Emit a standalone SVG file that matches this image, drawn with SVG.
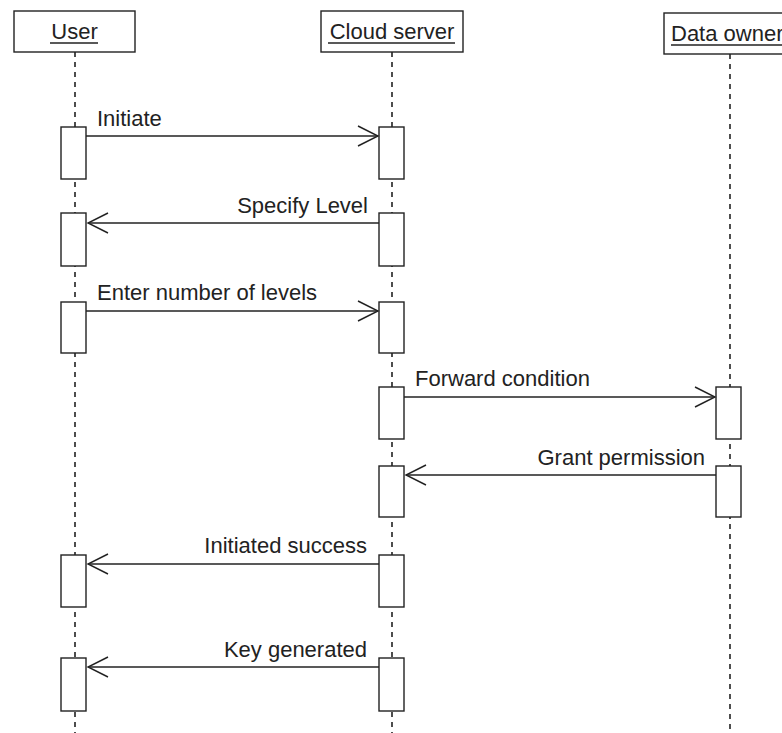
<svg xmlns="http://www.w3.org/2000/svg" width="782" height="733" viewBox="0 0 782 733">
<style>
.head{fill:#fff;stroke:#222;stroke-width:1.4}
.lbl{font-family:"Liberation Sans",Arial,sans-serif;font-size:22px;fill:#222}
.life{stroke:#222;stroke-width:1.6;stroke-dasharray:5,5;fill:none}
.bar{fill:#fff;stroke:#222;stroke-width:1.4}
.msg{stroke:#222;stroke-width:1.4;fill:none}
.ul{stroke:#222;stroke-width:1.3}
</style>
<rect width="782" height="733" fill="#fff"/>
<g id="lifelines">
<line class="life" x1="75" y1="52" x2="75" y2="733"/>
<line class="life" x1="392" y1="52" x2="392" y2="733"/>
<line class="life" x1="730" y1="54" x2="730" y2="733"/>
</g>
<g id="user">
<rect class="head" x="14" y="11" width="121" height="41"/>
<text class="lbl" x="74.5" y="39" text-anchor="middle">User</text>
<line class="ul" x1="50" y1="43" x2="98" y2="43"/>
</g>
<g id="cloud">
<rect class="head" x="321" y="11" width="142" height="41"/>
<text class="lbl" x="392" y="39" text-anchor="middle">Cloud server</text>
<line class="ul" x1="328" y1="43" x2="455" y2="43"/>
</g>
<g id="owner">
<rect class="head" x="664" y="13" width="140" height="41"/>
<text class="lbl" x="671" y="41">Data owner</text>
<line class="ul" x1="671" y1="45" x2="784" y2="45"/>
</g>
<g id="activations">
<rect class="bar" x="61" y="127" width="25" height="52"/>
<rect class="bar" x="379" y="127" width="25" height="52"/>
<rect class="bar" x="61" y="213" width="25" height="53"/>
<rect class="bar" x="379" y="213" width="25" height="53"/>
<rect class="bar" x="61" y="302" width="25" height="51"/>
<rect class="bar" x="379" y="302" width="25" height="51"/>
<rect class="bar" x="379" y="387" width="25" height="52"/>
<rect class="bar" x="716" y="387" width="25" height="52"/>
<rect class="bar" x="379" y="466" width="25" height="51"/>
<rect class="bar" x="716" y="466" width="25" height="51"/>
<rect class="bar" x="61" y="555" width="25" height="52"/>
<rect class="bar" x="379" y="555" width="25" height="52"/>
<rect class="bar" x="61" y="658" width="25" height="53"/>
<rect class="bar" x="379" y="658" width="25" height="53"/>
</g>
<g id="connectors">
<line class="msg" x1="86" y1="136" x2="378" y2="136"/>
<polyline class="msg" points="358,126 378,136 358,146"/>
<line class="msg" x1="379" y1="223" x2="88" y2="223"/>
<polyline class="msg" points="108,213 88,223 108,233"/>
<line class="msg" x1="86" y1="311" x2="378" y2="311"/>
<polyline class="msg" points="358,301 378,311 358,321"/>
<line class="msg" x1="404" y1="397" x2="715" y2="397"/>
<polyline class="msg" points="695,387 715,397 695,407"/>
<line class="msg" x1="716" y1="475" x2="406" y2="475"/>
<polyline class="msg" points="426,465 406,475 426,485"/>
<line class="msg" x1="379" y1="564" x2="88" y2="564"/>
<polyline class="msg" points="108,554 88,564 108,574"/>
<line class="msg" x1="379" y1="667" x2="88" y2="667"/>
<polyline class="msg" points="108,657 88,667 108,677"/>
</g>
<g id="labels">
<text class="lbl" x="97" y="126">Initiate</text>
<text class="lbl" x="368" y="213" text-anchor="end">Specify Level</text>
<text class="lbl" x="97" y="300">Enter number of levels</text>
<text class="lbl" x="415" y="386">Forward condition</text>
<text class="lbl" x="705" y="465" text-anchor="end">Grant permission</text>
<text class="lbl" x="367" y="553" text-anchor="end">Initiated success</text>
<text class="lbl" x="367" y="657" text-anchor="end">Key generated</text>
</g>
</svg>
